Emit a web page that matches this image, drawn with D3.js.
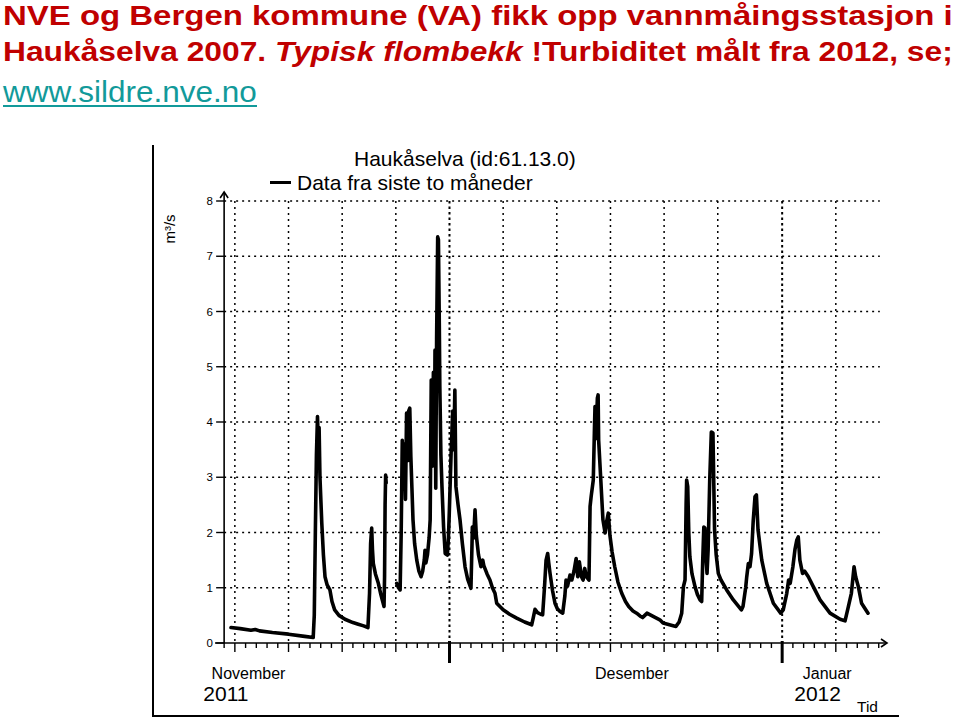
<!DOCTYPE html>
<html><head><meta charset="utf-8">
<script src="https://cdn.jsdelivr.net/npm/d3@7"></script>
<style>body{margin:0;background:#fff}svg{display:block}text{font-family:"Liberation Sans",Arial,sans-serif}</style>
</head><body>
<svg id="chart" width="960" height="720"></svg>
<script>
// ---------- data ----------
const titleLine1 = "NVE og Bergen kommune (VA) fikk opp vannmåingsstasjon i";
const titleLine2Parts = ["Haukåselva 2007. ", "Typisk flombekk", " !Turbiditet målt fra 2012, se;"];
const titleLine3 = "www.sildre.nve.no";
const chartTitle = "Haukåselva (id:61.13.0)";
const legendLabel = "Data fra siste to måneder";
const yLabel = "m³/s";
const yTicks = [0, 1, 2, 3, 4, 5, 6, 7, 8];
const monthLabels = ["November", "Desember", "Januar"];
const yearLabels = ["2011", "2012"];
const xAxisLabel = "Tid";
// days since 2011-11-01 00:00 UTC
const days = [
 9.64,10.5,11.5,11.9,12.3,13.5,15.0,16.5,17.3,17.4,17.5,17.6,17.7,17.78,17.85,17.93,18.1,18.25,18.4,18.6,
 18.86,19.05,19.3,19.7,20.26,21.0,21.5,22.0,22.4,22.55,22.65,22.75,22.82,22.9,23.1,23.37,23.6,23.9,23.95,24.0,
 24.05,24.1,24.5,
 25.08,25.25,25.4,25.5,25.6,25.7,25.8,25.9,26.0,26.1,26.2,26.3,26.4,26.5,26.6,26.75,26.95,27.15,27.35,27.5,
 27.65,27.72,27.8,27.95,28.1,28.2,28.3,28.4,28.5,28.6,28.65,28.72,28.8,28.9,28.97,29.05,29.1,29.2,29.3,29.45,
 29.6,29.8,29.9,29.98,30.15,30.3,30.4,30.5,30.6,30.8,30.98,31.2,31.45,31.7,32.0,32.1,32.13,32.25,32.38,32.5,
 32.7,32.93,33.1,33.2,33.5,33.77,34.0,34.24,34.4,35.0,35.6,36.26,37.0,37.66,37.8,37.97,38.2,38.5,38.68,38.85,
 39.0,39.15,39.25,39.37,39.6,39.83,40.05,40.3,40.55,40.75,40.86,41.0,41.23,41.4,41.6,41.8,41.95,42.1,42.3,42.45,
 42.6,42.75,43.0,43.1,43.2,43.4,43.5,43.56,43.65,43.78,43.85,43.9,44.1,44.3,44.5,44.65,44.8,44.95,45.15,45.4,
 45.7,46.05,46.4,46.7,47.1,47.44,47.75,48.0,48.2,48.4,48.8,49.2,49.6,49.9,50.5,51.1,51.4,51.64,51.8,51.95,
 52.05,52.1,52.2,52.3,52.4,52.6,52.88,53.1,53.35,53.5,53.6,53.7,53.8,53.9,54.0,54.1,54.25,54.4,54.55,54.7,
 54.85,55.05,55.3,55.83,56.45,57.2,57.35,57.6,57.7,57.85,58.0,58.15,58.3,58.47,58.6,58.75,59.1,59.56,60.18,60.86,
 61.1,61.43,61.6,61.75,62.0,62.2,62.36,62.5,62.65,62.9,63.1,63.44,63.9,64.53,65.46,66.4,66.86,67.17,67.45,67.7,
 67.85,68.1,68.4,69.0
];
const flow = [
 0.28,0.26,0.23,0.245,0.22,0.19,0.16,0.12,0.10,0.5,2.0,3.4,4.10,3.6,3.9,3.0,2.17,1.6,1.2,1.05,
 0.96,0.75,0.6,0.5,0.43,0.37,0.34,0.31,0.28,0.9,1.8,2.08,1.7,1.44,1.25,1.08,0.88,0.66,1.2,2.5,
 3.04,2.9,null,
 1.08,1.0,0.96,2.0,3.67,2.9,3.6,2.6,4.16,3.3,4.2,4.25,3.37,2.8,2.23,1.8,1.5,1.3,1.2,1.3,
 1.5,1.68,1.45,1.6,1.9,2.23,4.76,3.2,4.9,3.6,5.3,2.8,5.5,7.35,7.3,5.8,4.64,3.4,2.83,2.1,
 1.62,1.59,1.9,2.35,3.43,4.2,3.5,4.58,2.83,2.5,2.23,1.8,1.38,1.15,0.99,1.8,2.1,1.9,2.41,1.95,
 1.6,1.38,1.5,1.4,1.25,1.14,1.0,0.9,0.72,0.6,0.52,0.45,0.38,0.33,0.45,0.61,0.55,0.52,0.51,1.0,
 1.5,1.62,1.45,1.26,0.95,0.72,0.62,0.57,0.54,0.85,1.14,1.03,1.23,1.14,1.3,1.53,1.2,1.47,1.2,1.14,
 1.35,1.2,1.14,2.47,2.65,2.95,3.8,4.28,3.7,4.43,4.49,3.67,2.95,2.23,1.99,2.2,2.35,1.95,1.65,1.38,
 1.1,0.9,0.75,0.66,0.58,0.54,0.49,0.46,0.5,0.54,0.5,0.46,0.42,0.36,0.33,0.30,0.38,0.54,1.02,1.14,
 2.5,2.95,2.83,2.0,1.56,1.25,1.02,0.88,0.78,0.75,1.5,2.1,2.08,1.56,1.26,1.68,2.95,3.82,3.8,2.05,
 1.6,1.26,1.14,0.96,0.78,0.6,0.66,1.0,1.2,1.44,1.38,1.62,2.2,2.65,2.68,2.05,1.5,1.08,0.72,0.54,
 0.6,0.9,1.14,1.08,1.38,1.7,1.86,1.92,1.5,1.26,1.3,1.2,1.02,0.78,0.54,0.43,0.40,0.66,0.9,1.38,
 1.2,1.02,0.72,0.54
];

// ---------- layout ----------
const svg = d3.select("#chart");
const DAY = 864e5;
const t0 = Date.UTC(2011, 10, 1);
const toDate = d => new Date(t0 + d * DAY);

const x = d3.scaleUtc().domain([toDate(8), toDate(72)]).range([213.4, 900.2]);
const y = d3.scaleLinear().domain([0, 8]).range([643, 201]);
const axisStart = toDate(9), axisEnd = toDate(70.1);
const x0 = x(axisStart), xEnd = x(axisEnd);

// ---------- title ----------
const red = "#c00000", teal = "#129a9a";
function fitText(sel, left, width) {
  const w = sel.node().getComputedTextLength();
  sel.attr("transform", `translate(${left},0) scale(${width / w},1)`);
}
const t1 = svg.append("text").attr("x", 0).attr("y", 25).attr("fill", red)
  .attr("font-size", 27.5).attr("font-weight", "bold").text(titleLine1);
fitText(t1, 3, 950);
const t2 = svg.append("text").attr("x", 0).attr("y", 61).attr("fill", red)
  .attr("font-size", 28).attr("font-weight", "bold");
titleLine2Parts.forEach((p, i) => t2.append("tspan").attr("font-style", i === 1 ? "italic" : "normal").text(p));
fitText(t2, 3, 950);
const t3 = svg.append("text").attr("x", 0).attr("y", 102).attr("fill", teal)
  .attr("font-size", 30).text(titleLine3);
fitText(t3, 3, 254);
svg.append("line").attr("x1", 3).attr("x2", 257).attr("y1", 106).attr("y2", 106)
  .attr("stroke", teal).attr("stroke-width", 2);

// ---------- frame ----------
svg.append("line").attr("x1", 153).attr("x2", 153).attr("y1", 145).attr("y2", 716)
  .attr("stroke", "#000").attr("stroke-width", 2);
svg.append("line").attr("x1", 152).attr("x2", 899).attr("y1", 716).attr("y2", 716)
  .attr("stroke", "#000").attr("stroke-width", 2);

// ---------- chart header ----------
svg.append("text").attr("x", 354).attr("y", 166).attr("font-size", 21).text(chartTitle);
svg.append("line").attr("x1", 270).attr("x2", 291).attr("y1", 182.5).attr("y2", 182.5)
  .attr("stroke", "#000").attr("stroke-width", 3);
svg.append("text").attr("x", 297).attr("y", 190).attr("font-size", 21).text(legendLabel);

// ---------- grid ----------
const g = svg.append("g");
g.selectAll(".hg").data(yTicks.filter(v => v > 0)).join("line")
  .attr("x1", x0).attr("x2", xEnd).attr("y1", d => y(d)).attr("y2", d => y(d))
  .attr("stroke", "#000").attr("stroke-width", 1.5).attr("stroke-dasharray", "2,4");
const allDays = d3.utcDay.range(axisStart, toDate(70.5));
const gridDays = allDays.filter(d => [1, 6, 11, 16, 21, 26].includes(d.getUTCDate()) && +d > +axisStart);
g.selectAll(".vg").data(gridDays).join("line")
  .attr("x1", d => x(d)).attr("x2", d => x(d)).attr("y1", y(8)).attr("y2", y(0))
  .attr("stroke", "#000")
  .attr("stroke-width", d => d.getUTCDate() === 1 ? 2 : 1.5)
  .attr("stroke-dasharray", d => d.getUTCDate() === 1 ? "2.5,3" : "2,4");

// ---------- axes ----------
const ax = svg.append("g").attr("stroke", "#000").attr("fill", "none");
ax.append("line").attr("x1", x0).attr("x2", x0).attr("y1", y(0)).attr("y2", 193).attr("stroke-width", 1.6);
ax.append("path").attr("d", `M${x0 - 4},${198} L${x0},${192} L${x0 + 4},${198}`).attr("stroke-width", 1.6);
ax.selectAll(".yt").data(yTicks).join("line")
  .attr("x1", x0 - 8).attr("x2", x0).attr("y1", d => y(d)).attr("y2", d => y(d)).attr("stroke-width", 1.4);
svg.selectAll(".yl").data(yTicks).join("text")
  .attr("x", 213).attr("y", d => y(d) + 4).attr("text-anchor", "end").attr("font-size", 11.5).text(d => d);
ax.append("line").attr("x1", 215).attr("x2", 887).attr("y1", y(0)).attr("y2", y(0)).attr("stroke-width", 1.6);
ax.append("path").attr("d", `M${881},${y(0) - 4} L${887},${y(0)} L${881},${y(0) + 4}`).attr("stroke-width", 1.6);
ax.selectAll(".xt").data(allDays).join("line")
  .attr("x1", d => x(d)).attr("x2", d => x(d))
  .attr("y1", d => d.getUTCDate() === 1 ? y(0) - 2 : y(0))
  .attr("y2", d => d.getUTCDate() === 1 ? y(0) + 20 : ([6, 11, 16, 21, 26].includes(d.getUTCDate()) ? y(0) + 9 : y(0) + 5))
  .attr("stroke-width", d => d.getUTCDate() === 1 ? 3 : 1.4);

const monthPos = [toDate(11.27), toDate(47.0), toDate(65.2)];
svg.selectAll(".ml").data(monthLabels).join("text")
  .attr("x", (d, i) => x(monthPos[i])).attr("y", 679).attr("text-anchor", "middle")
  .attr("font-size", 16).text(d => d);
const yearPos = [toDate(9.17), toDate(64.3)];
svg.selectAll(".yrl").data(yearLabels).join("text")
  .attr("x", (d, i) => x(yearPos[i])).attr("y", 701).attr("text-anchor", "middle")
  .attr("font-size", 21).text(d => d);
svg.append("text").attr("x", 857).attr("y", 712).attr("font-size", 15.5).text(xAxisLabel);

svg.append("text").attr("transform", `translate(175,229) rotate(-90)`).attr("text-anchor", "middle")
  .attr("font-size", 15).text(yLabel);

// ---------- series ----------
const data = days.map((d, i) => ({ date: toDate(d), v: flow[i] }));
const line = d3.line().defined(d => d.v != null).x(d => x(d.date)).y(d => y(d.v));
svg.append("path").datum(data).attr("d", line).attr("fill", "none")
  .attr("stroke", "#000").attr("stroke-width", 3.6).attr("stroke-linejoin", "round").attr("stroke-linecap", "round");
</script>
</body></html>
